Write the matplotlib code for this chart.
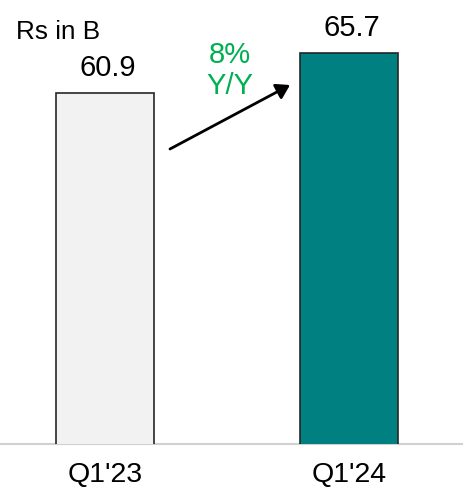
import matplotlib
matplotlib.use("Agg")
import matplotlib.pyplot as plt

# Revenue by quarter
categories = ["Q1'23", "Q1'24"]
values = [60.9, 65.7]
growth_label = ["8%", "Y/Y"]
unit_label = "Rs in B"

bar_colors = ["#F2F2F2", "#008080"]
green = "#00B050"

plt.rcParams["font.family"] = ["Liberation Sans", "DejaVu Sans"]

W, H = 464, 492
fig = plt.figure(figsize=(W / 100, H / 100), dpi=100)
ax = fig.add_axes([0, 1 - 443.7 / H, 1, 443.7 / H])

x = list(range(len(categories)))
ax.bar(x, values, width=0.4016, color=bar_colors, edgecolor="#262626", linewidth=1.2, zorder=2)

ax.set_xlim(-0.430, 1.471)
ax.set_ylim(18.82, 72.06)

for s in ["top", "right", "left"]:
    ax.spines[s].set_visible(False)
ax.spines["bottom"].set_color("#D0D0D0")
ax.spines["bottom"].set_linewidth(1.5)
ax.spines["bottom"].set_zorder(1)
ax.set_yticks([])
ax.set_xticks(x)
ax.set_xticklabels(categories, fontsize=20.5)
ax.tick_params(axis="x", length=0, pad=13.5)

# value labels above bars
for xi, v in zip(x, values):
    ax.annotate(f"{v:.1f}", xy=(xi, v), xytext=(2.2, 12.3), textcoords="offset points",
                ha="center", va="baseline", fontsize=21)

def fx(px):
    return px / W

def fy(py):
    return 1 - py / H

fig.text(fx(16), fy(39.3), unit_label, fontsize=18.8, ha="left", va="baseline")

fig.text(fx(230), fy(62.7), growth_label[0], fontsize=21, color=green, ha="center", va="baseline")
fig.text(fx(230), fy(93.5), growth_label[1], fontsize=21, color=green, ha="center", va="baseline")

fig.add_artist(matplotlib.patches.FancyArrowPatch(
    (fx(170), fy(149)), (fx(290), fy(85)), transform=fig.transFigure,
    arrowstyle="-|>,head_length=8,head_width=5", color="black", linewidth=2,
    shrinkA=0, shrinkB=0))

fig.savefig("out.png", dpi=100)
